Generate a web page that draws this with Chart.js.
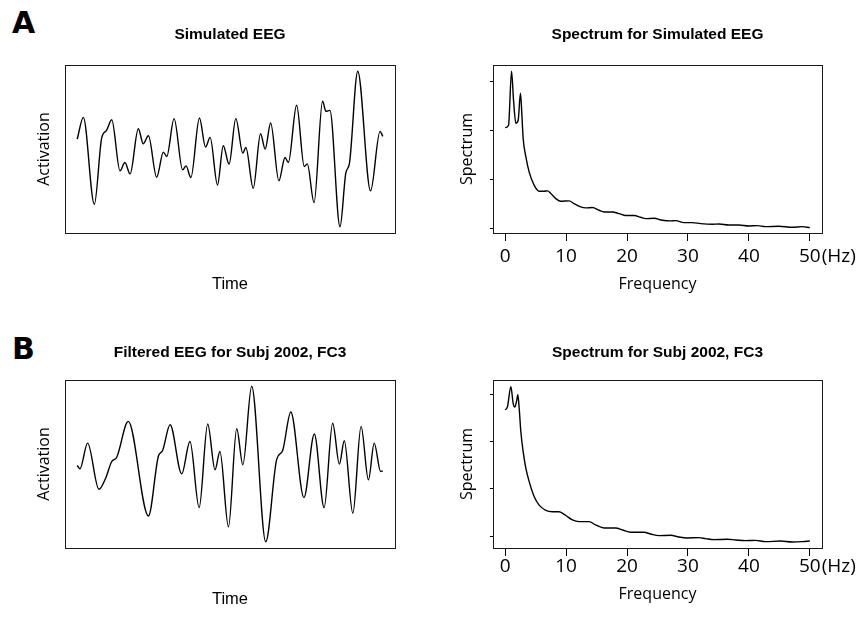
<!DOCTYPE html>
<html>
<head>
<meta charset="utf-8">
<title>Simulated and filtered EEG</title>
<script src="https://cdn.jsdelivr.net/npm/chart.js@4.4.1/dist/chart.umd.min.js"></script>
<style>
  body { margin: 0; background: #fff; }
  #page { position: relative; width: 857px; height: 630px; overflow: hidden; background: #fff; }
  .panel { position: absolute; }
  .tag { position: absolute; font-family: "DejaVu Sans"; font-weight: bold; font-size: 30px; line-height: 30px; color: #000; }
</style>
</head>
<body>
<div id="page">
  <div class="tag" style="left:12px;top:8px">A</div>
  <div class="tag" style="left:12px;top:334px">B</div>
  <canvas class="panel" id="simEeg" width="428" height="315" style="left:0px;top:0px"></canvas>
  <canvas class="panel" id="simSpec" width="429" height="315" style="left:428px;top:0px"></canvas>
  <canvas class="panel" id="subjEeg" width="428" height="315" style="left:0px;top:315px"></canvas>
  <canvas class="panel" id="subjSpec" width="429" height="315" style="left:428px;top:315px"></canvas>
</div>
<script>
// panel A, left: simulated signal (time in ms, activation arbitrary units)
const simTime = [0, 20, 56, 80, 96, 113, 140, 156, 173, 200, 216, 233, 260, 282, 293, 317, 345, 356, 372, 400,
  420, 435, 459, 478, 497, 519, 542, 552, 576, 600, 615, 633, 660, 680, 691, 718, 743, 753, 775, 803,
  814, 827, 860, 879, 891, 918, 960, 991, 1000];
const simActivation = [1.27, 4.07, -7.11, 1.40, 2.39, 3.77, -2.81, -1.74, -3.20, 2.61, 0.67, 1.70, -3.63, -0.40, -0.96, 3.90, -2.68, -2.17, -3.67, 3.98,
  0.24, 1.49, -4.62, 0.41, -1.95, 3.90, -0.53, 0.20, -5.05, 1.96, -0.02, 3.34, -4.10, -1.09, -1.74, 5.62, -2.25, -1.91, -6.90, 6.13,
  4.84, 4.97, -10.0, -3.11, -1.82, 10.0, -5.39, 2.26, 1.62];

// panel A, right: spectrum of the simulated signal
const simFreq = [0, 0.55, 1.04, 1.37, 1.75, 2.13, 2.51, 2.73, 2.95, 3.39, 3.93, 4.75, 5.57, 6.39, 6.94, 7.49, 8.31, 9.13, 10.49, 11.31,
  12.40, 13.22, 14.32, 15.41, 16.23, 17.60, 18.69, 19.78, 21.15, 22.24, 23.06, 24.43, 25.79, 27.16, 27.98, 29.34, 30.71, 32.08, 33.99, 35.08,
  36.72, 38.36, 40.0, 41.37, 42.73, 44.92, 47.10, 48.74, 50];
const simPower = [2.05, 2.10, 3.20, 2.61, 2.14, 2.20, 2.75, 2.34, 1.83, 1.46, 1.15, 0.88, 0.755, 0.755, 0.762, 0.707, 0.605, 0.551, 0.558, 0.503,
  0.435, 0.415, 0.422, 0.367, 0.333, 0.333, 0.299, 0.259, 0.259, 0.224, 0.197, 0.204, 0.163, 0.150, 0.156, 0.116, 0.116, 0.095, 0.082, 0.088,
  0.068, 0.068, 0.048, 0.054, 0.034, 0.041, 0.020, 0.034, 0.014];

// panel B, left: filtered recording
const subjTime = [0, 9, 34, 71, 93, 113, 129, 167, 233, 266, 279, 304, 342, 369, 399, 427, 451, 467, 495, 522,
  542, 571, 617, 653, 672, 699, 742, 776, 808, 836, 858, 874, 902, 929, 953, 972, 993, 1000];
const subjActivation = [-0.19, -0.62, 2.69, -3.25, -1.83, 0.32, 0.84, 5.48, -6.69, 1.05, 1.70, 5.05, -1.27, 2.90, -5.61, 5.14, -0.75, 1.61, -8.06, 4.54,
  -0.11, 10.0, -10.0, 0.62, 1.70, 6.69, -4.32, 3.85, -5.61, 5.23, -0.02, 2.99, -6.34, 4.84, -2.04, 2.69, -0.97, -0.88];

// panel B, right: spectrum of the recording
const subjFreq = [0, 0.38, 0.93, 1.31, 1.58, 1.86, 2.08, 2.30, 2.57, 2.95, 3.39, 3.93, 4.75, 5.57, 6.67, 7.76, 8.85, 9.95, 11.04, 12.13,
  13.77, 14.86, 16.23, 18.14, 19.24, 20.60, 22.79, 23.88, 25.25, 27.16, 28.52, 29.89, 31.80, 32.90, 34.26, 36.45, 37.81, 39.45, 41.09, 42.73,
  45.19, 47.10, 48.74, 50];
const subjPower = [3.67, 3.74, 4.16, 3.81, 3.73, 3.85, 3.99, 3.70, 3.21, 2.79, 2.44, 2.16, 1.84, 1.66, 1.55, 1.52, 1.52, 1.44, 1.345, 1.31,
  1.31, 1.24, 1.176, 1.176, 1.134, 1.085, 1.085, 1.049, 1.014, 1.021, 0.986, 0.965, 0.972, 0.951, 0.930, 0.937, 0.923, 0.908, 0.915, 0.887,
  0.901, 0.880, 0.887, 0.901];

const freqTicks = [0, 10, 20, 30, 40, 50];
const simSpecTicks = [0, 1, 2, 3];
const subjSpecTicks = [1, 2, 3, 4];

const black = '#000';
const tickFontSize = 19;

// box round the plot area
const framePlugin = {
  id: 'frame',
  afterDraw(chart) {
    const a = chart.chartArea;
    const ctx = chart.ctx;
    const l = Math.round(a.left), t = Math.round(a.top);
    ctx.save();
    ctx.strokeStyle = '#1a1a1a';
    ctx.lineWidth = 1;
    ctx.strokeRect(l + 0.5, t + 0.5, Math.round(a.right) - l, Math.round(a.bottom) - t);
    ctx.restore();
  }
};

// "(Hz)" written just after the last frequency label
const hzPlugin = {
  id: 'hz',
  afterDraw(chart, args, opts) {
    if (!opts.text) return;
    const x = chart.scales.x;
    const ctx = chart.ctx;
    const last = freqTicks[freqTicks.length - 1];
    ctx.save();
    ctx.font = tickFontSize + 'px "Open Sans"';
    ctx.fillStyle = black;
    ctx.textAlign = 'left';
    ctx.textBaseline = 'middle';
    const px = x.getPixelForValue(last) + ctx.measureText(String(last)).width / 2 + 1;
    const py = x.top + 8 + opts.pad + tickFontSize * 0.6;
    ctx.fillText(opts.text, px, py);
    ctx.restore();
  }
};

Chart.register(framePlugin, hzPlugin);

function makePanel(id, xs, ys, p) {
  const points = xs.map((x, i) => ({ x: x, y: ys[i] }));
  const spectrum = !!p.yTicks;

  const xScale = {
    type: 'linear',
    min: p.xMin,
    max: p.xMax,
    afterFit: s => { s.height = 82; },
    border: { display: false },
    title: {
      display: true, text: p.xTitle, color: black,
      font: p.xTitleFont,
      padding: { top: 0, bottom: p.xTitleBottom }
    }
  };
  const yScale = {
    type: 'linear',
    min: p.yMin,
    max: p.yMax,
    afterFit: s => { s.width = 65; },
    border: { display: false },
    ticks: { display: false },
    title: {
      display: true, text: p.yTitle, color: black,
      font: { family: 'Open Sans', size: 16 },
      padding: { top: p.yTitleLeft, bottom: 0 }
    }
  };

  if (spectrum) {
    xScale.afterBuildTicks = s => { s.ticks = freqTicks.map(v => ({ value: v })); };
    xScale.grid = { display: true, drawOnChartArea: false, drawTicks: true, tickLength: 8, color: black, tickColor: black };
    xScale.ticks = { display: true, color: black, padding: p.tickPad, maxRotation: 0, autoSkip: false,
      font: { family: 'Open Sans', size: tickFontSize } };
    yScale.afterBuildTicks = s => { s.ticks = p.yTicks.map(v => ({ value: v })); };
    yScale.grid = { display: true, drawOnChartArea: false, drawTicks: true, tickLength: 3, color: black, tickColor: black };
  } else {
    xScale.grid = { display: false };
    xScale.ticks = { display: false };
    yScale.grid = { display: false };
  }

  return new Chart(document.getElementById(id), {
    type: 'line',
    data: {
      datasets: [{
        data: points,
        borderColor: black,
        borderWidth: 1.4,
        pointRadius: 0,
        fill: false,
        tension: 0.4,
        cubicInterpolationMode: 'monotone'
      }]
    },
    options: {
      responsive: false,
      animation: false,
      layout: { padding: { left: 0, right: p.right, top: 0, bottom: 0 } },
      plugins: {
        legend: { display: false },
        tooltip: { enabled: false },
        title: {
          display: true, text: p.title, fullSize: false, color: black,
          font: { family: 'Liberation Sans', size: 15.5, weight: 'bold' },
          padding: { top: p.titleTop, bottom: 65 - 18.6 - p.titleTop }
        },
        hz: spectrum ? { text: '(Hz)', pad: p.tickPad } : {}
      },
      scales: { x: xScale, y: yScale }
    }
  });
}

makePanel('simEeg', simTime, simActivation, {
  title: 'Simulated EEG', titleTop: 25, right: 33,
  xMin: -40, xMax: 1040, yMin: -10.8, yMax: 10.8,
  xTitle: 'Time', xTitleFont: { family: 'Liberation Sans', size: 16.5 }, xTitleBottom: 20.5,
  yTitle: 'Activation', yTitleLeft: 34.4
});

makePanel('simSpec', simFreq, simPower, {
  title: 'Spectrum for Simulated EEG', titleTop: 25, right: 35,
  xMin: -2, xMax: 52, yMin: -0.096, yMax: 3.326, yTicks: simSpecTicks, tickPad: 4,
  xTitle: 'Frequency', xTitleFont: { family: 'Open Sans', size: 16 }, xTitleBottom: 20.5,
  yTitle: 'Spectrum', yTitleLeft: 30
});

makePanel('subjEeg', subjTime, subjActivation, {
  title: 'Filtered EEG for Subj 2002, FC3', titleTop: 28.3, right: 33,
  xMin: -40, xMax: 1040, yMin: -10.8, yMax: 10.8,
  xTitle: 'Time', xTitleFont: { family: 'Liberation Sans', size: 16.5 }, xTitleBottom: 20.5,
  yTitle: 'Activation', yTitleLeft: 34.4
});

makePanel('subjSpec', subjFreq, subjPower, {
  title: 'Spectrum for Subj 2002, FC3', titleTop: 28.3, right: 35,
  xMin: -2, xMax: 52, yMin: 0.753, yMax: 4.303, yTicks: subjSpecTicks, tickPad: -0.9,
  xTitle: 'Frequency', xTitleFont: { family: 'Open Sans', size: 16 }, xTitleBottom: 25.5,
  yTitle: 'Spectrum', yTitleLeft: 30
});
</script>
</body>
</html>
